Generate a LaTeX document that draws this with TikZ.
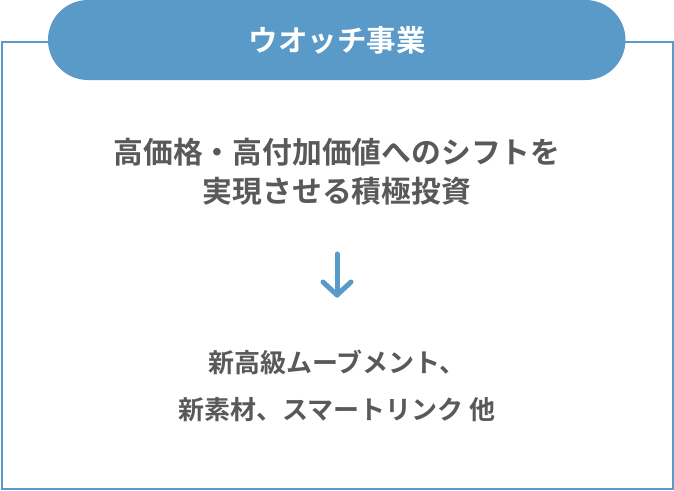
\documentclass[tikz,border=0pt]{standalone}
\usepackage{fontspec}
\usetikzlibrary{calc}
\setmainfont{Noto Sans CJK JP}[BoldFont={Noto Sans CJK JP Bold}]
\newfontfamily\jpb{Noto Sans CJK JP Bold}
\definecolor{mainblue}{HTML}{5A9AC8}
\definecolor{txtgray}{HTML}{595959}
\begin{document}
\begin{tikzpicture}[x=1pt,y=-1pt,
  frame/.style={draw=mainblue,line width=2pt},
  pill/.style={fill=mainblue,rounded corners=40pt},
  headtext/.style={text=white,font=\jpb\fontsize{29.5}{32}\selectfont},
  bodytext/.style={text=txtgray,align=center,font=\jpb\fontsize{29.8}{39}\selectfont},
  subtext/.style={text=txtgray,align=center,font=\jpb\fontsize{26}{47}\selectfont},
  arrowline/.style={draw=mainblue,line width=5pt,line cap=round,line join=round}]
\useasboundingbox (0,0) rectangle (674,490);
\fill[white] (0,0) rectangle (674,490);
\draw[frame] (2,42) rectangle (673,488.5);
\fill[pill] (48,0) rectangle (625.5,80);
\node[headtext] (head) at (337,40) {ウオッチ事業};
\node[bodytext] (main) at (337,172) {高価格・高付加価値へのシフトを\\実現させる積極投資};
\node[subtext] (sub) at (337,385.5) {新高級ムーブメント、\\新素材、スマートリンク 他};
\coordinate (atop) at (337,254);
\coordinate (abot) at (337,295);
\draw[arrowline] (atop) -- (abot);
\draw[arrowline] ($(abot)+(-14,-13)$) -- (abot) -- ($(abot)+(14,-13)$);
\end{tikzpicture}
\end{document}
